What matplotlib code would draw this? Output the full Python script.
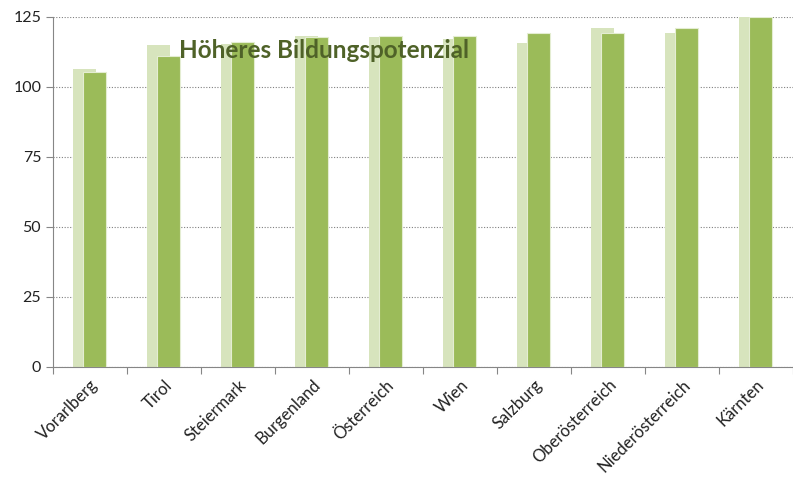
import numpy as np
import matplotlib.pyplot as plt

regions = ['Vorarlberg', 'Tirol', 'Steiermark', 'Burgenland', 'Österreich',
           'Wien', 'Salzburg', 'Oberösterreich', 'Niederösterreich', 'Kärnten']
# hintere (helle) und vordere (dunkle) Reihe
back_vals = [106.3, 115.0, 115.5, 118.2, 117.7, 117.0, 115.6, 120.9, 119.4, 125.0]
front_vals = [105.2, 111.2, 116.0, 117.7, 118.3, 118.3, 119.4, 119.4, 120.9, 125.0]
yticks = [0, 25, 50, 75, 100, 125]

plt.rcParams['font.family'] = ['Lato', 'DejaVu Sans']

fig = plt.figure(figsize=(7.93, 4.8), dpi=100)
ax = fig.add_axes([53 / 793, 113 / 480, 740 / 793, 350 / 480])

x = np.arange(len(regions))
w = 0.32
ax.bar(x - 0.073, back_vals, w, color='#D7E4BD', zorder=2)
ax.bar(x + 0.06, front_vals, w, color='#9BBB59', edgecolor='#E4EDD2', linewidth=0.8, zorder=3)

ax.set_xlim(-0.5, 9.37)
ax.set_ylim(0, 125)
ax.set_yticks(yticks)
ax.yaxis.grid(True, linestyle=(0, (1, 1.5)), color='#808080', linewidth=0.8, zorder=0)

ax.set_xticks(np.arange(len(regions) + 1) - 0.5)
ax.set_xticklabels([])
ax.set_xticks(x, minor=True)
ax.set_xticklabels(regions, minor=True, rotation=45, ha='right', va='top',
                   rotation_mode='anchor', fontsize=12, color='#222222')
ax.tick_params(axis='x', which='minor', length=0, pad=7)
ax.tick_params(axis='x', which='major', length=5, color='#868686', direction='out')
ax.tick_params(axis='y', length=5, color='#868686', labelsize=11.5, labelcolor='#222222')

for s in ['top', 'right']:
    ax.spines[s].set_visible(False)
ax.spines['left'].set_color('#868686')
ax.spines['bottom'].set_color('#868686')

ax.text(0.17, 0.905, 'Höheres Bildungspotenzial', transform=ax.transAxes,
        fontsize=17.5, fontweight='bold', color='#4F6228', ha='left', va='center', zorder=5)

fig.savefig('out.png', dpi=100)
